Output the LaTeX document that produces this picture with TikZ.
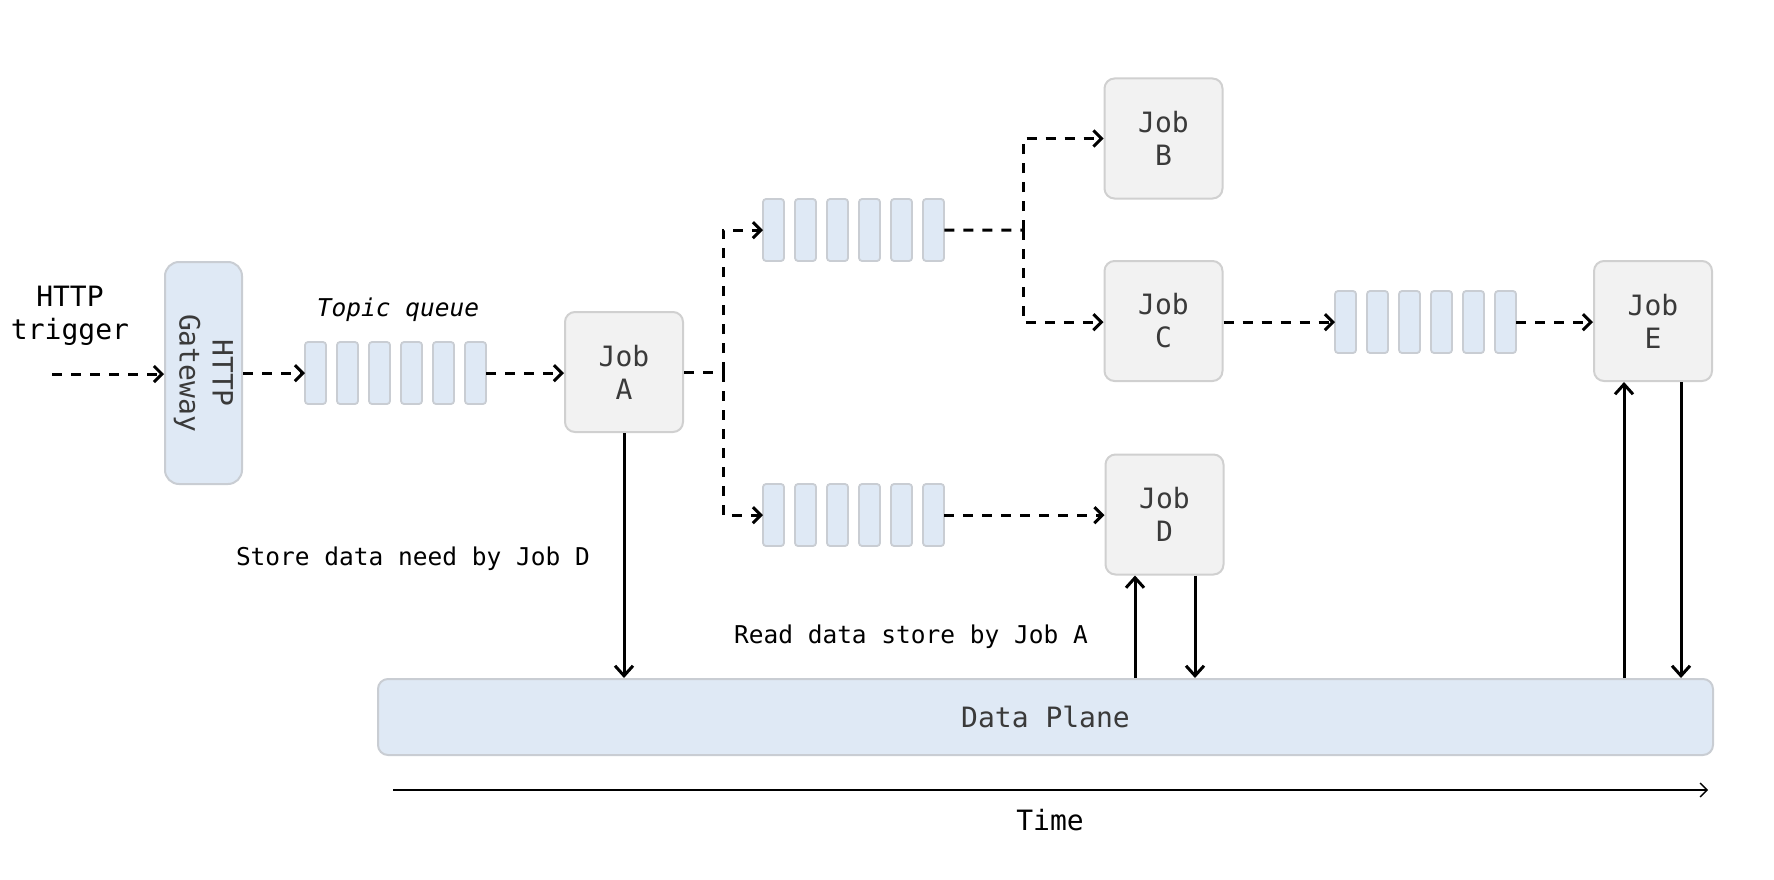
\documentclass[tikz,border=0pt]{standalone}
\usepackage{fontspec}
\setmonofont{DejaVu Sans Mono}
\usetikzlibrary{arrows.meta}
\definecolor{jobfill}{HTML}{F2F2F2}
\definecolor{jobdraw}{HTML}{D0D0D0}
\definecolor{bluefill}{HTML}{DFE9F5}
\definecolor{bluedraw}{HTML}{C9CDD3}
\definecolor{txt}{HTML}{3A3A3A}
\tikzset{
  jobbox/.style={draw=jobdraw, fill=jobfill, line width=2pt, rounded corners=10pt,
    minimum width=118pt, minimum height=120pt, inner sep=0pt, align=center,
    text=txt, font=\ttfamily\fontsize{28}{33}\selectfont},
  qcell/.style={draw=bluedraw, fill=bluefill, line width=1.8pt, rounded corners=3pt},
  qframe/.style={draw=none, minimum width=181pt, minimum height=62pt, inner sep=0pt, anchor=north west},
  dasharrow/.style={line width=3pt, dash pattern=on 10pt off 9pt, -{Straight Barb[length=8pt,width=16pt,line width=3pt]}},
  dashline/.style={line width=3pt, dash pattern=on 10pt off 9pt},
  solidarrow/.style={line width=3pt, -{Straight Barb[length=10pt,width=18pt,line width=3pt]}},
  lbl/.style={font=\ttfamily\fontsize{28}{33}\selectfont, align=center, text=black},
  smalllbl/.style={font=\ttfamily\fontsize{24.5}{29}\selectfont, text=black},
}
\begin{document}
\begin{tikzpicture}[x=1pt,y=-1pt]
\useasboundingbox (0,0) rectangle (1774,880);
% gateway
\node[draw=bluedraw, fill=bluefill, line width=2pt, rounded corners=14pt,
  minimum width=77pt, minimum height=222pt, inner sep=0pt] (gw) at (203.5,373) {};
\node[rotate=-90, align=center, text=txt, font=\ttfamily\fontsize{28}{33}\selectfont] (gwt) at (gw.center) {HTTP\\Gateway};
% trigger
\node[lbl] (trig) at (70,316) {HTTP\\trigger};
\coordinate (tstart) at (52,374);
% queues
\foreach \n/\x/\y in {q1/305/342, q2/763/199, q3/763/484, q4/1335/291} {
  \node[qframe] (\n) at (\x,\y) {};
  \foreach \i in {0,...,5} \draw[qcell] (\x+\i*32,\y) rectangle ++(21,62);
}
\node[font=\ttfamily\itshape\fontsize{24.5}{29}\selectfont] (tq) at (398,310) {Topic queue};
% jobs
\node[jobbox] (jA) at (624,372) {Job\\A};
\node[jobbox] (jB) at (1163.5,138.5) {Job\\B};
\node[jobbox] (jC) at (1163.5,321) {Job\\C};
\node[jobbox] (jD) at (1164.5,514.5) {Job\\D};
\node[jobbox] (jE) at (1653,321) {Job\\E};
% data plane
\node[draw=bluedraw, fill=bluefill, line width=2pt, rounded corners=10pt,
  minimum width=1335pt, minimum height=76pt, inner sep=0pt, text=txt,
  font=\ttfamily\fontsize{28}{33}\selectfont] (dp) at (1045.5,717) {Data Plane};
% dashed flow
\draw[dasharrow] (tstart) -- (gw.west |- tstart);
\draw[dasharrow] (gw.east |- q1.west) -- (q1.west);
\draw[dasharrow] (q1.east) -- (jA.west |- q1.east);
\coordinate (ja) at (723,372);
\draw[dashline] (jA.east |- ja) -- (ja);
\draw[dasharrow] (ja) |- (q2.west);
\draw[dasharrow] (ja) |- (q3.west);
\coordinate (jb) at (1023,230);
\draw[dashline] (q2.east) -- (jb);
\draw[dasharrow] (jb) |- (jB.west);
\draw[dasharrow] (jb) |- (jC.west |- q4.west);
\draw[dasharrow] (q3.east) -- (jD.west |- q3.east);
\draw[dasharrow] (jC.east |- q4.west) -- (q4.west);
\draw[dasharrow] (q4.east) -- (jE.west |- q4.east);
% data arrows
\draw[solidarrow] (jA.south) -- (jA.south |- dp.north);
\coordinate (du) at (1135,0);
\coordinate (dd) at (1195,0);
\coordinate (eu) at (1624,0);
\coordinate (ed) at (1681,0);
\draw[solidarrow] (du |- dp.north) -- (du |- jD.south);
\draw[solidarrow] (dd |- jD.south) -- (dd |- dp.north);
\draw[solidarrow] (eu |- dp.north) -- (eu |- jE.south);
\draw[solidarrow] (ed |- jE.south) -- (ed |- dp.north);
% labels
\node[smalllbl] (l1) at (413,559) {Store data need by Job D};
\node[smalllbl] (l2) at (911,637) {Read data store by Job A};
% time
\coordinate (t0) at (393,790);
\coordinate (t1) at (1708,790);
\draw[line width=1.3pt, -{Straight Barb[length=7pt,width=14pt,line width=1.3pt]}] (t0) -- (t1);
\node[lbl] (time) at (1050,820) {Time};
\end{tikzpicture}
\end{document}
